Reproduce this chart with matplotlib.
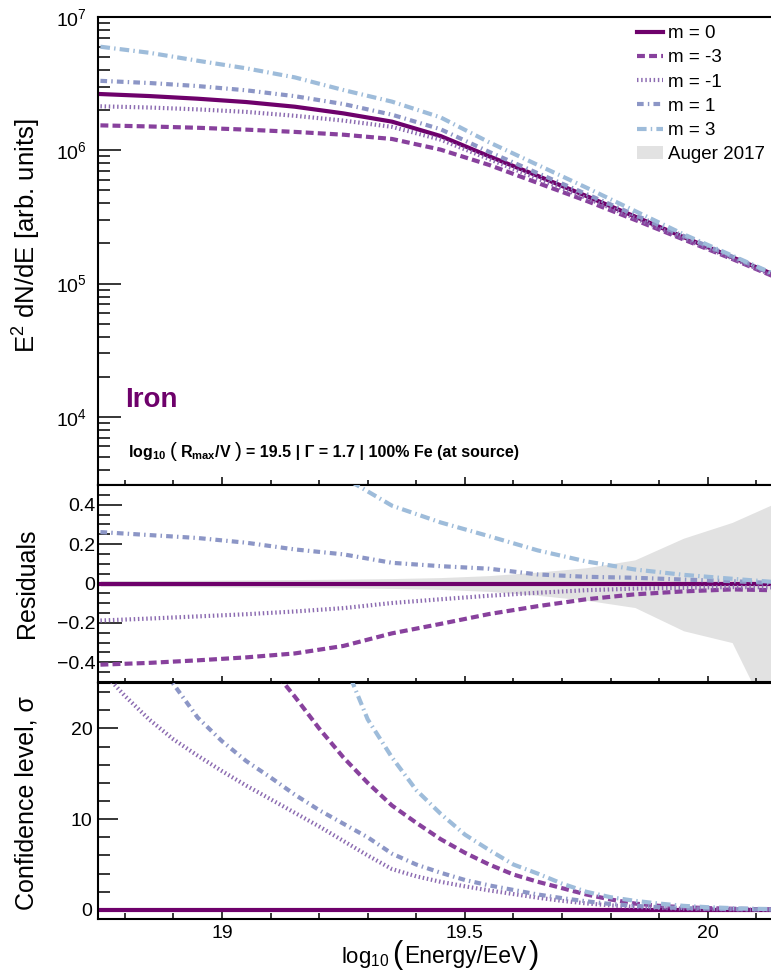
import matplotlib
matplotlib.use("Agg")
import matplotlib.pyplot as plt
import matplotlib.ticker as mticker
from matplotlib.lines import Line2D
from matplotlib.patches import Patch
from matplotlib.offsetbox import TextArea, HPacker, AnchoredOffsetbox
import numpy as np

plt.rcParams['font.family'] = ['Liberation Sans', 'DejaVu Sans']
plt.rcParams['mathtext.fontset'] = 'custom'
plt.rcParams['mathtext.rm'] = 'Liberation Sans'
plt.rcParams['mathtext.it'] = 'Liberation Sans:italic'
plt.rcParams['mathtext.bf'] = 'Liberation Sans:bold'

# ---- data ----
labels = ['m = 0', 'm = -3', 'm = -1', 'm = 1', 'm = 3']
band_label = 'Auger 2017'

# spectrum panel, log10(E^2 dN/dE)
x_spec = [18.75, 18.85, 18.95, 19.05, 19.15, 19.25, 19.35, 19.45,
          19.55, 19.65, 19.75, 19.85, 19.95, 20.05, 20.15]
logflux_m0 = [6.422, 6.407, 6.387, 6.362, 6.327, 6.277, 6.215, 6.107,
              5.955, 5.808, 5.657, 5.503, 5.349, 5.198, 5.046]
logflux_mn3 = [6.187, 6.179, 6.169, 6.155, 6.138, 6.117, 6.085, 6.005,
               5.890, 5.755, 5.621, 5.478, 5.331, 5.185, 5.031]
logflux_mn1 = [6.330, 6.321, 6.307, 6.288, 6.259, 6.223, 6.176, 6.080,
               5.934, 5.787, 5.642, 5.492, 5.339, 5.190, 5.037]
logflux_m1 = [6.521, 6.505, 6.482, 6.450, 6.406, 6.347, 6.267, 6.158,
              5.988, 5.828, 5.672, 5.515, 5.358, 5.203, 5.046]
logflux_m3 = [6.777, 6.732, 6.672, 6.615, 6.547, 6.452, 6.365, 6.247,
              6.060, 5.890, 5.720, 5.545, 5.370, 5.210, 5.050]

# residuals panel (same x)
res_m0 = [0.0] * 15
res_mn3 = [-0.412, -0.403, -0.390, -0.375, -0.355, -0.317, -0.253, -0.205,
           -0.155, -0.115, -0.080, -0.055, -0.040, -0.030, -0.035]
res_mn1 = [-0.188, -0.178, -0.167, -0.156, -0.142, -0.125, -0.099, -0.080,
           -0.062, -0.047, -0.034, -0.026, -0.022, -0.018, -0.020]
res_m1 = [0.261, 0.246, 0.231, 0.207, 0.173, 0.148, 0.105, 0.088,
          0.075, 0.046, 0.034, 0.029, 0.020, 0.012, 0.000]
res_m3 = [1.26, 1.10, 0.96, 0.84, 0.70, 0.54, 0.395, 0.31,
          0.24, 0.168, 0.112, 0.071, 0.044, 0.024, 0.005]
auger_hi = [0.015, 0.015, 0.016, 0.018, 0.020, 0.022, 0.025, 0.030,
            0.040, 0.058, 0.080, 0.120, 0.230, 0.310, 0.420]
auger_lo = [-0.015, -0.015, -0.016, -0.018, -0.020, -0.022, -0.025, -0.030,
            -0.040, -0.060, -0.085, -0.122, -0.240, -0.300, -0.800]

# confidence level panel
x_sig = [18.75, 18.80, 18.85, 18.90, 18.95, 19.00, 19.05, 19.10, 19.15, 19.20,
         19.25, 19.30, 19.35, 19.40, 19.45, 19.50, 19.55, 19.60, 19.65, 19.70,
         19.75, 19.80, 19.85, 19.90, 19.95, 20.00, 20.05, 20.10, 20.15]
nan = np.nan
sig_m0 = [0.0] * 29
sig_mn3 = [nan, nan, nan, nan, nan, nan, nan, 26.8, 23.5, 20.0,
           16.8, 14.0, 11.5, 9.6, 7.8, 6.3, 5.0, 3.9, 3.1, 2.4,
           1.7, 1.15, 0.7, 0.45, 0.3, 0.2, 0.13, 0.09, 0.06]
sig_mn1 = [26.5, 23.6, 21.0, 18.8, 17.0, 15.3, 13.7, 12.2, 10.7, 9.2,
           7.6, 6.0, 4.5, 3.7, 3.1, 2.6, 2.15, 1.75, 1.35, 1.0,
           0.72, 0.5, 0.33, 0.22, 0.14, 0.09, 0.06, 0.04, 0.03]
sig_m1 = [nan, nan, 29.0, 24.9, 21.2, 18.6, 16.4, 14.6, 12.7, 11.0,
          9.5, 8.0, 6.2, 5.0, 4.1, 3.3, 2.7, 2.2, 1.7, 1.3,
          0.95, 0.65, 0.45, 0.3, 0.2, 0.13, 0.09, 0.06, 0.04]
sig_m3 = [nan, nan, nan, nan, nan, nan, nan, nan, nan, nan,
          27.5, 21.0, 16.8, 13.2, 10.6, 8.3, 6.6, 5.0, 4.0, 2.9,
          2.0, 1.4, 1.0, 0.7, 0.45, 0.3, 0.2, 0.12, 0.08]

res_ticks = [-0.4, -0.2, 0, 0.2, 0.4]
res_ticklabels = ['\u22120.4', '\u22120.2', '0', '0.2', '0.4']
sig_ticks = [0, 10, 20]
sig_ticklabels = ['0', '10', '20']
x_ticks = [19, 19.5, 20]
x_ticklabels = ['19', '19.5', '20']

# ---- styles ----
colors = ['#6e016b', '#88419d', '#8c6bb1', '#8c96c6', '#9ebcda']
linestyles = ['-', (0, (1.9, 1.0)), (0, (0.35, 0.65)),
              (0, (1.6, 1.0, 0.35, 1.0)), (0, (2.3, 1.0, 0.35, 1.0))]
LW = 3.0
band_color = '#e2e2e2'
TICK_FS = 14

W, H = 771, 974
fig = plt.figure(figsize=(W / 100, H / 100), dpi=100)
L = 98 / W
AW = 673 / W
ax1 = fig.add_axes([L, 1 - 485 / H, AW, 468 / H])
ax2 = fig.add_axes([L, 1 - 682 / H, AW, 197 / H])
ax3 = fig.add_axes([L, 1 - 919 / H, AW, 236 / H])

spec = [logflux_m0, logflux_mn3, logflux_mn1, logflux_m1, logflux_m3]
res = [res_m0, res_mn3, res_mn1, res_m1, res_m3]
sig = [sig_m0, sig_mn3, sig_mn1, sig_m1, sig_m3]

ax2.fill_between(x_spec, auger_lo, auger_hi, color=band_color, lw=0, zorder=1)

for i in range(5):
    ax1.plot(x_spec, 10 ** np.array(spec[i]), color=colors[i], ls=linestyles[i], lw=LW, zorder=2 + i)
    ax2.plot(x_spec, res[i], color=colors[i], ls=linestyles[i], lw=LW, zorder=2 + i)
    ax3.plot(x_sig, sig[i], color=colors[i], ls=linestyles[i], lw=LW, zorder=2 + i)

xmin, xmax = 18.745, 20.13
for ax in (ax1, ax2, ax3):
    ax.set_xlim(xmin, xmax)
    ax.spines['right'].set_visible(False)
    for s in ('left', 'top', 'bottom'):
        ax.spines[s].set_linewidth(1.5)
    ax.xaxis.set_major_locator(mticker.FixedLocator(x_ticks))
    ax.xaxis.set_minor_locator(mticker.MultipleLocator(0.1))
    ax.tick_params(which='both', direction='in', top=False, right=False, width=1.1,
                   labelsize=TICK_FS, color='black')

# top panel
ax1.set_yscale('log')
ax1.set_ylim(10 ** 3.489, 1e7)
ax1.yaxis.set_major_locator(mticker.LogLocator(base=10, numticks=10))
ax1.yaxis.set_minor_locator(mticker.LogLocator(base=10, subs=np.arange(2, 10), numticks=20))
ax1.yaxis.set_minor_formatter(mticker.NullFormatter())
ax1.tick_params(axis='y', which='major', length=16.5, pad=8)
ax1.tick_params(axis='y', which='minor', length=8.6)
ax1.tick_params(axis='x', which='major', length=5.8, labelbottom=False)
ax1.tick_params(axis='x', which='minor', length=3.6)

# residuals
ax2.set_ylim(-0.5, 0.5)
ax2.yaxis.set_major_locator(mticker.FixedLocator(res_ticks))
ax2.yaxis.set_major_formatter(mticker.FixedFormatter(res_ticklabels))
ax2.yaxis.set_minor_locator(mticker.MultipleLocator(0.05))
ax2.tick_params(axis='y', which='major', length=17, pad=2)
ax2.tick_params(axis='y', which='minor', length=8.6)
ax2.tick_params(axis='x', which='major', length=4.3, labelbottom=False)
ax2.tick_params(axis='x', which='minor', length=2.9)

# confidence level
ax3.set_ylim(-1, 25)
ax3.yaxis.set_major_locator(mticker.FixedLocator(sig_ticks))
ax3.yaxis.set_major_formatter(mticker.FixedFormatter(sig_ticklabels))
ax3.yaxis.set_minor_locator(mticker.MultipleLocator(2))
ax3.xaxis.set_major_formatter(mticker.FixedFormatter(x_ticklabels))
ax3.tick_params(axis='y', which='major', length=14.4, pad=4)
ax3.tick_params(axis='y', which='minor', length=8.6)
ax3.tick_params(axis='x', which='major', length=8, pad=4)
ax3.tick_params(axis='x', which='minor', length=4.3)

# y labels
ax1.set_ylabel('E$^\\mathregular{2}$ dN/dE [arb. units]', fontsize=18.5, va='center')
ax1.yaxis.set_label_coords(27 / W, 1 - 236 / H, transform=fig.transFigure)
ax2.set_ylabel('Residuals', fontsize=18, va='center')
ax2.yaxis.set_label_coords(27 / W, 1 - 583 / H, transform=fig.transFigure)
ax3.set_ylabel('Confidence level, \u03c3', fontsize=18, va='center')
ax3.yaxis.set_label_coords(27 / W, 1 - 803 / H, transform=fig.transFigure)

# x label with tall brackets
xl = HPacker(children=[
    TextArea('log$_\\mathregular{10}$', textprops=dict(fontsize=16)),
    TextArea('(', textprops=dict(fontsize=22)),
    TextArea('Energy/EeV', textprops=dict(fontsize=16.5)),
    TextArea(')', textprops=dict(fontsize=22)),
], align='baseline', pad=0, sep=1.5)
ax3.add_artist(AnchoredOffsetbox(loc='center', child=xl, pad=0, borderpad=0, frameon=False,
                                 bbox_to_anchor=(440 / W, 1 - 955 / H),
                                 bbox_transform=fig.transFigure))

# annotations
fig.text(125 / W, 1 - 400 / H, 'Iron', color=colors[0], fontsize=20, fontweight='bold',
         ha='left', va='center')
bold = dict(fontsize=11.5, fontweight='bold')
note = HPacker(children=[
    TextArea('log$_\\mathregular{10}$', textprops=bold),
    TextArea('(', textprops=dict(fontsize=15)),
    TextArea('R$_\\mathregular{max}$/V', textprops=bold),
    TextArea(')', textprops=dict(fontsize=15)),
    TextArea('= 19.5 | \u0393 = 1.7 | 100% Fe (at source)', textprops=bold),
], align='baseline', pad=0, sep=2.5)
ax1.add_artist(AnchoredOffsetbox(loc='center left', child=note, pad=0, borderpad=0, frameon=False,
                                 bbox_to_anchor=(128 / W, 1 - 452 / H),
                                 bbox_transform=fig.transFigure))

# legend
handles = [Line2D([], [], color=colors[i], ls=linestyles[i], lw=LW) for i in range(5)]
handles.append(Patch(facecolor=band_color, edgecolor='none'))
ax1.legend(handles, labels + [band_label], loc='upper left',
           bbox_to_anchor=(637 / W, 1 - 25 / H), bbox_transform=fig.transFigure,
           frameon=False, fontsize=13.5, borderpad=0, borderaxespad=0,
           handlelength=1.4, handletextpad=0.28, labelspacing=0.38)

fig.savefig('out.png', dpi=100)
